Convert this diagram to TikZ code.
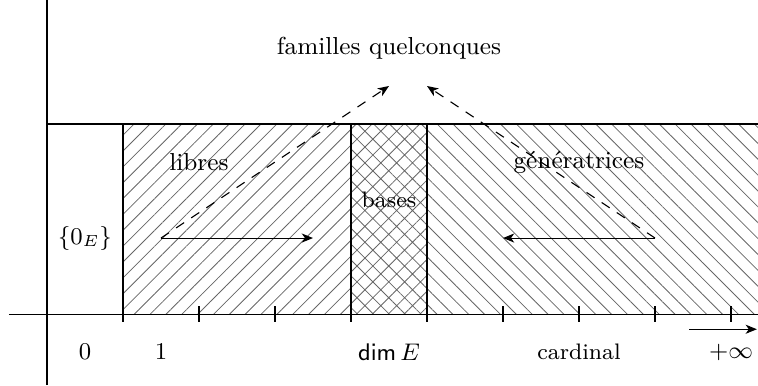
\documentclass[tikz,border=0pt]{standalone}
\usetikzlibrary{patterns.meta,arrows.meta}
\tikzset{
  txt/.style={font=\fontsize{9.2}{11}\selectfont, inner sep=0pt},
  smalltxt/.style={font=\fontsize{8.4}{10}\selectfont, inner sep=0pt},
  hatchne/.style={pattern={Lines[angle=45,distance=4.2pt,line width=0.3pt]}, pattern color=black!60},
  hatchnw/.style={pattern={Lines[angle=-45,distance=4.2pt,line width=0.3pt]}, pattern color=black!60},
  hatchx/.style={pattern={Hatch[angle=45,distance=4.2pt,line width=0.3pt]}, pattern color=black!60},
  tick/.style={line width=0.4pt},
  tip/.style={-{Stealth[length=4.2pt,width=3.4pt,inset=1.2pt]}},
  ray/.style={tip, line width=0.4pt},
  dray/.style={tip, dash pattern=on 3.6pt off 3.2pt, line width=0.4pt}
}
\begin{document}
\begin{tikzpicture}
\useasboundingbox (-0.618,-0.934) rectangle (9.355,4.132);

% shaded zones
\fill[hatchne] (1,0) rectangle (4,2.5);
\fill[hatchx] (4,0) rectangle (5,2.5);
\fill[hatchnw] (5,0) rectangle (9.355,2.5);

% axes and frame
\draw (0,-0.934) -- (0,4.132);
\draw (-0.5,0) -- (9.355,0);
\draw (0,2.5) -- (9.355,2.5);
\foreach \x in {1,4,5} \draw (\x,0) -- (\x,2.5);
\foreach \x in {1,...,9} \draw[tick] (\x,-0.1) -- (\x,0.1);

% labels
\node[txt] (fq) at (4.5,3.5) {familles quelconques};
\node[txt] (lib) at (2,2) {libres};
\node[txt] (gen) at (7,2) {génératrices};
\node[smalltxt] (bas) at (4.5,1.5) {bases};
\node[txt] (zero) at (0.5,1) {$\{0_E\}$};

\node[txt] (n0) at (0.5,-0.5) {$0$};
\node[txt] (n1) at (1.5,-0.5) {$1$};
\node[txt] (ndim) at (4.5,-0.5) {$\mathsf{dim}\,E$};
\node[smalltxt] (ncard) at (7,-0.5) {cardinal};
\node[txt] (ninf) at (9,-0.5) {$+\infty$};

% arrows
\coordinate (L) at (1.5,1);
\coordinate (LE) at (3.5,1);
\coordinate (LT) at (4.5,3);
\coordinate (R) at (8,1);
\coordinate (RE) at (6,1);
\coordinate (RT) at (5,3);
\coordinate (ia) at (8.45,-0.2);
\coordinate (ib) at (9.34,-0.2);

\draw[ray] (L) -- (LE);
\draw[ray] (R) -- (RE);
\draw[dray] (L) -- (LT);
\draw[dray] (R) -- (RT);
\draw[ray] (ia) -- (ib);
\end{tikzpicture}
\end{document}
